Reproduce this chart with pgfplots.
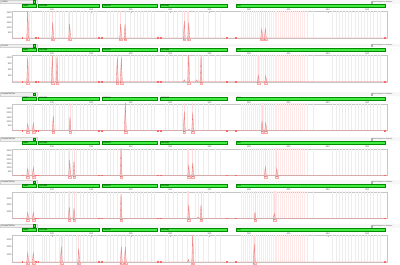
\documentclass[border=0pt]{standalone}
\usepackage{pgfplots}
\pgfplotsset{compat=1.18}
\usepackage{pgfplotstable}
\usepackage{fontspec}
\setmainfont{Liberation Sans}
\definecolor{barg}{RGB}{70,236,70}
\definecolor{peakfill}{RGB}{250,200,200}
\definecolor{peakline}{RGB}{236,120,120}

% ---------- bin lines (bp) ----------
\pgfplotstableread{
x y
71 99999
74 99999
87 99999
90 99999
93 99999
97 99999
104 99999
109 99999
113 99999
116 99999
120 99999
126 99999
131 99999
136 99999
140 99999
145 99999
149 99999
152 99999
156 99999
170.3 99999
173.7 99999
177.9 99999
182.2 99999
199 99999
204.1 99999
208.3 99999
211.7 99999
215.9 99999
220.2 99999
225.3 99999
229.5 99999
243.4 99999
247.6 99999
254 99999
258.3 99999
264.6 99999
271 99999
281.5 99999
285.7 99999
292.1 99999
298.4 99999
306.9 99999
313.2 99999
423.6 99999
431.2 99999
456 99999
460 99999
464 99999
468 99999
472 99999
476 99999
480 99999
484 99999
488 99999
492 99999
496 99999
500 99999
504 99999
508 99999
512 99999
516 99999
}\graybins
\pgfplotstableread{
x y
340 99999
342.5 99999
345 99999
347.5 99999
350 99999
352.5 99999
355 99999
357.5 99999
360 99999
362.5 99999
365 99999
367.5 99999
370 99999
372.5 99999
375 99999
377.5 99999
380 99999
382.5 99999
385 99999
387.5 99999
390 99999
392.5 99999
395 99999
397.5 99999
400 99999
402.5 99999
405 99999
407.5 99999
410 99999
412.5 99999
415 99999
417.5 99999
420 99999
}\pinkbins
\pgfplotstableread{
x y
62.4 0
79.4 0
82.7 0
159.3 0
163.1 0
233.7 0
237.5 0
322.1 0
333.5 0
522.5 0
}\edges

% ---------- peaks ----------
\pgfplotstableread{
x y
50 0
68.1 0
69.3 2800
70.5 0
99.8 0
101.0 1560
102.2 0
121.3 0
122.5 1400
123.7 0
186.0 0
187.2 1380
188.4 0
191.5 0
192.7 1380
193.9 0
266.7 0
267.9 1720
269.1 0
272.3 0
273.5 1530
274.7 0
364.9 0
366.1 960
367.3 0
369.5 0
370.7 960
371.9 0
525 0
}\pkA
\pgfplotstableread{
x y
50 0
68.1 0
69.3 1180
70.5 0
99.3 0
100.5 1290
101.7 0
105.2 0
106.4 1230
107.6 0
181.7 0
182.9 1195
184.1 0
186.8 0
188.0 1195
189.2 0
266.7 0
267.9 100
269.1 0
272.3 0
273.5 1400
274.7 0
282.4 0
283.6 100
284.8 0
287.9 0
289.1 1290
290.3 0
360.6 0
361.8 310
363.0 0
370.0 0
371.2 290
372.4 0
525 0
}\pkB
\pgfplotstableread{
x y
50 0
68.1 0
69.3 780
70.5 0
75.2 0
76.4 840
77.6 0
100.5 0
101.7 1650
102.9 0
121.7 0
122.9 1530
124.1 0
191.9 0
193.1 3200
194.3 0
266.7 0
267.9 2160
269.1 0
272.7 0
273.9 150
275.1 0
277.4 0
278.6 2040
279.8 0
365.3 0
366.5 1080
367.7 0
370.0 0
371.2 900
372.4 0
525 0
}\pkC
\pgfplotstableread{
x y
50 0
68.1 0
69.3 860
70.5 0
75.2 0
76.4 990
77.6 0
121.3 0
122.5 1880
123.7 0
126.8 0
128.0 1780
129.2 0
186.4 0
187.6 3500
188.8 0
272.3 0
273.5 1300
274.7 0
277.4 0
278.6 1550
279.8 0
369.5 0
370.7 1060
371.9 0
384.0 0
385.2 860
386.4 0
525 0
}\pkD
\pgfplotstableread{
x y
50 0
68.1 0
69.3 880
70.5 0
75.2 0
76.4 880
77.6 0
120.8 0
122.0 1680
123.2 0
126.8 0
128.0 1520
129.2 0
186.4 0
187.6 3640
188.8 0
272.3 0
273.5 2040
274.7 0
284.1 0
285.3 200
286.5 0
287.9 0
289.1 2040
290.3 0
356.4 0
357.6 880
358.8 0
380.9 0
382.1 720
383.3 0
525 0
}\pkE
\pgfplotstableread{
x y
50 0
68.1 0
69.3 1225
70.5 0
75.2 0
76.4 1260
77.6 0
110.7 0
111.9 2030
113.1 0
132.8 0
134.0 1785
135.2 0
186.8 0
188.0 2000
189.2 0
191.9 0
193.1 2000
194.3 0
271.8 0
273.0 350
274.2 0
277.4 0
278.6 3700
279.8 0
355.5 0
356.7 2415
357.9 0
525 0
}\pkF

% ---------- allele labels ----------
\pgfplotstableread{
x base top lab
69.3 0 99999 X
101.0 0 99999 12
122.5 0 99999 9
187.2 0 99999 14
192.7 0 99999 15
267.9 0 99999 11
273.5 0 99999 12
366.1 0 99999 22
370.7 0 99999 23
}\lbA
\pgfplotstableread{
x base top lab
69.3 0 99999 X
100.5 0 99999 11
106.4 0 99999 13
182.9 0 99999 15
188.0 0 99999 16
273.5 0 99999 12
289.1 0 99999 15
361.8 0 99999 21
371.2 0 99999 23
}\lbB
\pgfplotstableread{
x base top lab
69.3 0 99999 X
76.4 0 99999 Y
101.7 0 99999 12
122.9 0 99999 9
193.1 0 99999 15
267.9 0 99999 11
278.6 0 99999 13
366.5 0 99999 22
371.2 0 99999 23
}\lbC
\pgfplotstableread{
x base top lab
69.3 0 99999 X
76.4 0 99999 Y
122.5 0 99999 9
128.0 0 99999 10
187.6 0 99999 14
273.5 0 99999 12
278.6 0 99999 13
370.7 0 99999 23
385.2 0 99999 26
}\lbD
\pgfplotstableread{
x base top lab
69.3 0 99999 X
76.4 0 99999 Y
122.0 0 99999 9
128.0 0 99999 10
187.6 0 99999 14
273.5 0 99999 12
289.1 0 99999 15
357.6 0 99999 20
382.1 0 99999 26
}\lbE
\pgfplotstableread{
x base top lab
69.3 0 99999 X
76.4 0 99999 Y
111.9 0 99999 7
134.0 0 99999 11
188.0 0 99999 14
193.1 0 99999 15
278.6 0 99999 13
356.7 0 99999 20
}\lbF

\pgfplotsset{panel/.style={
  scale only axis, width=374.5pt, height=26.5pt,
  anchor=south west,
  xmin=50, xmax=525, ymin=0,
  axis line style={gray!45, line width=0.3pt},
  xtick={100,150,...,500},
  xtick pos=right, xticklabel pos=right,
  ytick pos=left,
  tick style={gray!55, line width=0.25pt},
  major tick length=1pt,
  ticklabel style={font=\fontsize{2.3}{2.6}\selectfont, text=black!70, inner sep=0.6pt},
  /pgf/number format/assume math mode=true,
  scaled y ticks=false,
  yticklabel style={/pgf/number format/1000 sep={}},
}}

\newcommand\Bar[4]{% top, x1, x2, name
  \draw[green!55!black, fill=barg, line width=0.15pt] (#2,{265-(#1-7.4)}) rectangle (#3,{265-(#1-4.4)});
  \node[anchor=west, inner sep=0, font=\fontsize{1.9}{2.2}\selectfont] at ({#2+0.8},{265-(#1-5.9)}) {#4};
}

\newcommand\Panel[7]{% #1 top px, #2 ymax, #3 yticks, #4 peaks, #5 labels, #6 name, #7 axis bottom (pt from bottom)
  \fill[gray!6] (0,{265-(#1-11.6)}) rectangle (400,{265-(#1-8.0)});
  \draw[gray!35, fill=gray!12, line width=0.2pt] (0.2,{265-(#1-11.5)}) rectangle (37,{265-(#1-8.1)});
  \node[anchor=west, inner sep=0, font=\fontsize{2.1}{2.4}\selectfont, text=black!75] at (1,{265-(#1-9.8)}) {#6};
  \draw[green!50!black, fill=barg, line width=0.2pt] (32.7,{265-(#1-11.1)}) rectangle (35.3,{265-(#1-8.5)});
  \draw[gray!60, fill=white, line width=0.2pt] (370.6,{265-(#1-10.7)}) rectangle (372.4,{265-(#1-8.9)});
  \node[anchor=west, inner sep=0, font=\fontsize{1.7}{2}\selectfont, text=black!75] at (372.9,{265-(#1-9.8)}) {Mark Sample for Deletion};
  \Bar{#1}{22.3}{35.7}{AMEL}
  \Bar{#1}{38.3}{98.7}{D3S1358}
  \Bar{#1}{101.7}{157.3}{D1S1656}
  \Bar{#1}{160.3}{227}{D6S1043}
  \Bar{#1}{236}{385}{FGA}
  \begin{axis}[panel, at={(12.5pt,#7pt)}, ymax=#2, ytick={#3}]
    \addplot[ycomb, gray!14, line width=0.3pt, mark=none] table {\graybins};
    \addplot[ycomb, red!9, line width=0.3pt, mark=none] table {\pinkbins};
    \addplot[ycomb, red!14, line width=0.6pt, mark=none] table[x=x, y=top] {#5};
    \addplot[fill=peakfill, draw=peakline, line width=0.3pt, mark=none] table {#4};
    \addplot[only marks, mark=square*, mark size=0.4pt, color=red!60] table {\edges};
    \addplot[only marks, mark=none, nodes near coords, point meta=explicit symbolic,
      every node near coord/.style={anchor=north, yshift=-0.4pt, inner sep=0.35pt,
        fill=red!8, draw=red!35, line width=0.2pt, text=black!75,
        font=\fontsize{1.7}{2}\selectfont, minimum width=2.6pt}]
      table[x=x, y=base, meta=lab] {#5};
  \end{axis}
}

\begin{document}
\begin{tikzpicture}[x=1pt, y=1pt]
  \Panel{11.6}{2600}{500,1000,1500,2000,2500}{\pkA}{\lbA}{Ladder}{226.9}
  \Panel{55.3}{1300}{300,600,900,1200}{\pkB}{\lbB}{Control}{183.2}
  \Panel{104.0}{3000}{500,1000,1500,2000,2500}{\pkC}{\lbC}{Sample/Mother}{134.5}
  \Panel{148.8}{3300}{500,1000,1500,2000,2500,3000}{\pkD}{\lbD}{Sample/Mother}{89.7}
  \Panel{191.8}{4000}{1000,2000,3000}{\pkE}{\lbE}{Sample/Father}{46.7}
  \Panel{235.6}{3500}{1000,2000,3000}{\pkF}{\lbF}{Sample/Father}{2.9}
  \pgfresetboundingbox
  \path (0,0) rectangle (400,265);
\end{tikzpicture}
\end{document}
